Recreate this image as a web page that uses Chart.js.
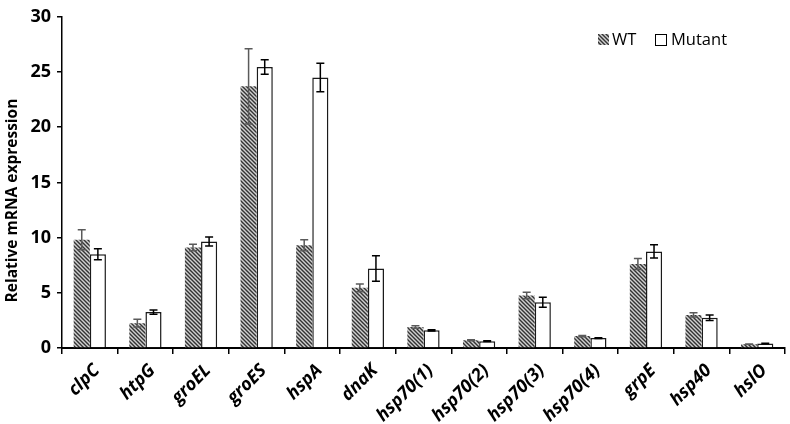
<!DOCTYPE html>
<html>
<head>
<meta charset="utf-8">
<script src="https://cdn.jsdelivr.net/npm/chart.js@4.4.1/dist/chart.umd.min.js"></script>
<style>
  html, body { margin: 0; padding: 0; background: #fff; }
  #wrap { width: 790px; height: 424px; }
</style>
</head>
<body>
<div id="wrap"><canvas id="c" width="790" height="424"></canvas></div>
<script>
const categories = ['clpC','htpG','groEL','groES','hspA','dnaK','hsp70(1)','hsp70(2)','hsp70(3)','hsp70(4)','grpE','hsp40','hslO'];
const wtValues     = [9.8, 2.25, 9.1, 23.7, 9.3, 5.45, 1.9, 0.7, 4.75, 1.08, 7.6, 3.0, 0.35];
const wtErrors     = [0.9, 0.35, 0.3, 3.4, 0.5, 0.35, 0.12, 0.05, 0.3, 0.05, 0.5, 0.2, 0.02];
const mutantValues = [8.5, 3.25, 9.65, 25.45, 24.5, 7.2, 1.6, 0.62, 4.15, 0.9, 8.75, 2.75, 0.4];
const mutantErrors = [0.5, 0.2, 0.4, 0.65, 1.3, 1.15, 0.05, 0.03, 0.45, 0.03, 0.6, 0.25, 0.02];
const yTicks = [0, 5, 10, 15, 20, 25, 30];
const seriesNames = ['WT', 'Mutant'];
const yTitle = 'Relative mRNA expression';

function makeHatch() {
  const s = 4;
  const p = document.createElement('canvas');
  p.width = s; p.height = s;
  const g = p.getContext('2d');
  g.fillStyle = '#d0d0d0';
  g.fillRect(0, 0, s, s);
  g.strokeStyle = '#333333';
  g.lineWidth = 1.4;
  g.beginPath();
  g.moveTo(-1, -1); g.lineTo(s + 1, s + 1);
  g.moveTo(-1, s - 1); g.lineTo(1, s + 1);
  g.moveTo(s - 1, -1); g.lineTo(s + 1, 1);
  g.stroke();
  return g.createPattern(p, 'repeat');
}
const ctx = document.getElementById('c').getContext('2d');
const hatch = makeHatch();

const errorBars = {
  id: 'errorBars',
  afterDatasetsDraw(chart) {
    const c = chart.ctx;
    const y = chart.scales.y;
    const errs = [wtErrors, mutantErrors];
    const cols = ['#5a5a5a', '#000000'];
    chart.data.datasets.forEach((ds, di) => {
      const meta = chart.getDatasetMeta(di);
      meta.data.forEach((bar, i) => {
        const v = ds.data[i], e = errs[di][i];
        const yt = y.getPixelForValue(v + e);
        const yb = y.getPixelForValue(v - e);
        c.save();
        c.strokeStyle = cols[di];
        c.lineWidth = 1.5;
        c.beginPath();
        c.moveTo(bar.x, yt); c.lineTo(bar.x, yb);
        c.moveTo(bar.x - 4, yt); c.lineTo(bar.x + 4, yt);
        c.moveTo(bar.x - 4, yb); c.lineTo(bar.x + 4, yb);
        c.stroke();
        c.restore();
      });
    });
  }
};

const legendPlugin = {
  id: 'customLegend',
  afterDraw(chart) {
    const c = chart.ctx;
    c.save();
    c.fillStyle = hatch;
    c.fillRect(598, 34, 11, 11);
    c.fillStyle = '#fff';
    c.fillRect(655.5, 34.5, 11, 11);
    c.strokeStyle = '#000';
    c.lineWidth = 1;
    c.strokeRect(655.5, 34.5, 11, 11);
    c.fillStyle = '#000';
    c.font = '16.5px "Open Sans", sans-serif';
    c.textBaseline = 'middle';
    c.textAlign = 'left';
    c.fillText(seriesNames[0], 612, 40);
    c.fillText(seriesNames[1], 671, 40);
    c.restore();
  }
};

new Chart(ctx, {
  type: 'bar',
  data: {
    labels: categories,
    datasets: [
      { label: seriesNames[0], data: wtValues, backgroundColor: hatch, borderWidth: 0,
        categoryPercentage: 0.58, barPercentage: 1.0 },
      { label: seriesNames[1], data: mutantValues, backgroundColor: '#ffffff', borderColor: '#1a1a1a', borderWidth: 1.5,
        categoryPercentage: 0.58, barPercentage: 1.0 }
    ]
  },
  options: {
    responsive: false,
    animation: false,
    layout: { padding: { top: 11, right: 5, left: 0, bottom: 0 } },
    plugins: { legend: { display: false }, tooltip: { enabled: false } },
    scales: {
      x: {
        grid: { display: true, drawOnChartArea: false, drawTicks: true, tickLength: 6, color: '#000', offset: true, lineWidth: 1.5 },
        border: { color: '#000', width: 2 },
        ticks: { color: '#000', minRotation: 45, maxRotation: 45, padding: 6, labelOffset: 7,
          font: { family: '"Open Sans", sans-serif', size: 18, weight: 'bold', style: 'italic' } },
        afterFit(s) { s.height = 76; }
      },
      y: {
        min: 0, max: 30,
        afterBuildTicks(s) { s.ticks = yTicks.map(v => ({ value: v })); },
        grid: { display: true, drawOnChartArea: false, drawTicks: true, tickLength: 5, color: '#000', lineWidth: 1.5 },
        border: { color: '#000', width: 1.5 },
        ticks: { color: '#000', padding: 6, font: { family: '"Open Sans", sans-serif', size: 18, weight: 'bold' } },
        title: { display: true, text: yTitle + '\u00a0'.repeat(9), color: '#000', padding: { top: 3, bottom: 4 },
          font: { family: '"Open Sans", sans-serif', size: 15.5, weight: 'bold' } },
        afterFit(s) { s.width = 62; }
      }
    }
  },
  plugins: [errorBars, legendPlugin]
});
</script>
</body>
</html>
